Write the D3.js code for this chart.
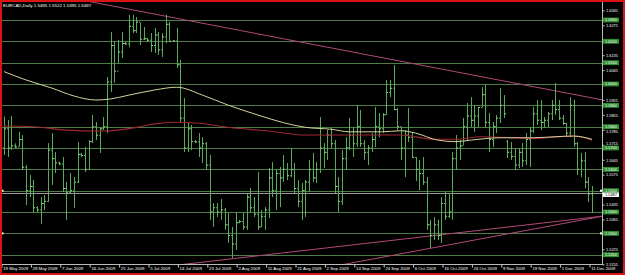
<!DOCTYPE html>
<html>
<head>
<meta charset="utf-8">
<script src="https://cdn.jsdelivr.net/npm/d3@7/dist/d3.min.js"></script>
<style>
html, body { margin: 0; padding: 0; background: #000; }
svg { display: block; }
text { font-family: "Liberation Sans", sans-serif; }
</style>
</head>
<body>
<script>
// EURCAD daily bars (bar index 0 = 19 May 2009)
var title = "EURCAD,Daily  1.5485 1.5522 1.5395 1.5487"

var highs = [
    1.5847,1.5831,1.5850,1.5722,1.5776,1.5761,1.5620,1.5573,1.5550,1.5428,
    1.5470,1.5480,1.5723,1.5770,1.5681,1.5636,1.5658,1.5541,1.5583,1.5564,
    1.5728,1.5677,1.5705,1.5737,1.5855,1.5822,1.5794,1.5845,1.6033,1.6244,
    1.6197,1.6206,1.6244,1.6197,1.6324,1.6324,1.6314,1.6286,1.6267,1.6216,
    1.6239,1.6263,1.6244,1.6239,1.6324,1.6291,1.6206,1.6263,1.6113,1.5934,
    1.5817,1.5808,1.5737,1.5770,1.5751,1.5728,1.5667,1.5442,1.5442,1.5461,
    1.5419,1.5395,1.5330,1.5400,1.5363,1.5400,1.5489,1.5513,1.5470,1.5587,
    1.5409,1.5423,1.5606,1.5634,1.5597,1.5611,1.5667,1.5630,1.5700,1.5630,
    1.5550,1.5536,1.5550,1.5644,1.5677,1.5634,1.5845,1.5723,1.5784,1.5794,
    1.5737,1.5564,1.5691,1.5751,1.5841,1.5798,1.5902,1.5878,1.5737,1.5714,
    1.5770,1.5892,1.5864,1.5864,1.6019,1.6019,1.6089,1.5887,1.5798,1.5784,
    1.5887,1.5775,1.5658,1.5644,1.5658,1.5564,1.5363,1.5377,1.5363,1.5470,
    1.5494,1.5489,1.5681,1.5761,1.5737,1.5841,1.5911,1.5939,1.5902,1.5892,
    1.5986,1.5995,1.5864,1.5822,1.5855,1.5981,1.5948,1.5737,1.5728,1.5700,
    1.5700,1.5723,1.5770,1.5798,1.5892,1.5925,1.5925,1.5845,1.5869,1.5925,
    1.6005,1.5925,1.5855,1.5817,1.5939,1.5925,1.5728,1.5677,1.5681,1.5564,
    1.5522]

var lows = [
    1.5667,1.5658,1.5691,1.5699,1.5706,1.5597,1.5433,1.5470,1.5395,1.5400,
    1.5344,1.5409,1.5447,1.5527,1.5583,1.5620,1.5494,1.5363,1.5489,1.5419,
    1.5536,1.5658,1.5587,1.5597,1.5723,1.5737,1.5677,1.5784,1.5770,1.5963,
    1.6005,1.6098,1.6122,1.6183,1.6173,1.6239,1.6239,1.6183,1.6206,1.6197,
    1.6150,1.6145,1.6136,1.6127,1.6192,1.6197,1.6197,1.6075,1.5817,1.5681,
    1.5681,1.5691,1.5723,1.5658,1.5630,1.5597,1.5363,1.5330,1.5377,1.5363,
    1.5316,1.5255,1.5184,1.5222,1.5348,1.5316,1.5316,1.5395,1.5377,1.5316,
    1.5330,1.5316,1.5372,1.5470,1.5409,1.5423,1.5541,1.5550,1.5564,1.5489,
    1.5423,1.5363,1.5377,1.5494,1.5541,1.5536,1.5583,1.5606,1.5644,1.5700,
    1.5489,1.5400,1.5433,1.5597,1.5691,1.5658,1.5705,1.5705,1.5644,1.5620,
    1.5681,1.5705,1.5751,1.5770,1.5855,1.5939,1.5878,1.5784,1.5644,1.5564,
    1.5728,1.5653,1.5545,1.5503,1.5527,1.5316,1.5231,1.5269,1.5269,1.5255,
    1.5363,1.5372,1.5363,1.5597,1.5644,1.5714,1.5737,1.5798,1.5775,1.5798,
    1.5892,1.5798,1.5681,1.5705,1.5770,1.5817,1.5841,1.5653,1.5644,1.5597,
    1.5606,1.5611,1.5620,1.5611,1.5770,1.5808,1.5784,1.5794,1.5798,1.5831,
    1.5855,1.5831,1.5808,1.5751,1.5751,1.5705,1.5573,1.5564,1.5511,1.5447,
    1.5395]

var opens = [
    1.5700,1.5790,1.5700,1.5710,1.5705,1.5740,1.5610,1.5500,1.5520,1.5420,
    1.5410,1.5440,1.5450,1.5690,1.5650,1.5630,1.5625,1.5510,1.5490,1.5500,
    1.5540,1.5670,1.5665,1.5600,1.5730,1.5800,1.5760,1.5790,1.5800,1.6010,
    1.6180,1.6060,1.6150,1.6190,1.6188,1.6270,1.6250,1.6290,1.6210,1.6212,
    1.6205,1.6180,1.6230,1.6160,1.6220,1.6280,1.6200,1.6202,1.6090,1.5840,
    1.5700,1.5790,1.5730,1.5728,1.5700,1.5720,1.5620,1.5400,1.5420,1.5400,
    1.5410,1.5340,1.5290,1.5250,1.5350,1.5355,1.5330,1.5470,1.5420,1.5390,
    1.5330,1.5380,1.5410,1.5560,1.5500,1.5580,1.5560,1.5600,1.5570,1.5600,
    1.5510,1.5450,1.5500,1.5540,1.5600,1.5560,1.5600,1.5700,1.5680,1.5760,
    1.5720,1.5520,1.5450,1.5650,1.5700,1.5760,1.5720,1.5800,1.5720,1.5680,
    1.5700,1.5740,1.5800,1.5790,1.5856,1.5960,1.5980,1.5880,1.5800,1.5700,
    1.5760,1.5750,1.5656,1.5600,1.5580,1.5540,1.5340,1.5290,1.5340,1.5290,
    1.5440,1.5380,1.5400,1.5650,1.5700,1.5710,1.5800,1.5850,1.5830,1.5850,
    1.5890,1.5950,1.5820,1.5740,1.5800,1.5840,1.5900,1.5730,1.5680,1.5660,
    1.5620,1.5680,1.5640,1.5740,1.5780,1.5860,1.5830,1.5820,1.5830,1.5860,
    1.5900,1.5880,1.5840,1.5815,1.5770,1.5900,1.5720,1.5600,1.5640,1.5540,
    1.5485]

var closes = [
    1.5790,1.5700,1.5710,1.5705,1.5740,1.5610,1.5500,1.5520,1.5420,1.5410,
    1.5440,1.5450,1.5690,1.5650,1.5630,1.5625,1.5510,1.5490,1.5500,1.5540,
    1.5670,1.5665,1.5600,1.5730,1.5800,1.5760,1.5790,1.5800,1.6010,1.6180,
    1.6060,1.6150,1.6190,1.6188,1.6270,1.6250,1.6290,1.6210,1.6212,1.6205,
    1.6180,1.6230,1.6160,1.6220,1.6280,1.6200,1.6202,1.6090,1.5840,1.5700,
    1.5790,1.5730,1.5728,1.5700,1.5720,1.5620,1.5400,1.5420,1.5400,1.5410,
    1.5340,1.5290,1.5250,1.5350,1.5355,1.5330,1.5470,1.5420,1.5390,1.5330,
    1.5380,1.5410,1.5560,1.5500,1.5580,1.5560,1.5600,1.5570,1.5600,1.5510,
    1.5450,1.5500,1.5540,1.5600,1.5560,1.5600,1.5700,1.5680,1.5760,1.5720,
    1.5520,1.5450,1.5650,1.5700,1.5760,1.5720,1.5800,1.5720,1.5680,1.5700,
    1.5740,1.5800,1.5790,1.5856,1.5960,1.5980,1.5880,1.5800,1.5700,1.5760,
    1.5750,1.5656,1.5600,1.5580,1.5540,1.5340,1.5290,1.5340,1.5290,1.5440,
    1.5380,1.5400,1.5650,1.5700,1.5710,1.5800,1.5850,1.5830,1.5850,1.5890,
    1.5950,1.5820,1.5740,1.5800,1.5840,1.5900,1.5860,1.5680,1.5660,1.5620,
    1.5680,1.5640,1.5740,1.5780,1.5860,1.5830,1.5820,1.5830,1.5860,1.5900,
    1.5880,1.5840,1.5815,1.5770,1.5900,1.5720,1.5600,1.5640,1.5540,1.5485,
    1.5487]

// moving averages, sampled along the curves
var maSlowIdx = [0, 6, 13, 19, 25, 29, 34, 41, 47, 54, 61, 69, 76, 82, 89, 94, 103, 108, 112, 118, 123, 127, 135, 144, 150, 155, 160]
var maSlow = [1.6058, 1.6019, 1.5981, 1.5944, 1.5925, 1.5930, 1.5948, 1.5972, 1.5985, 1.5948, 1.5901, 1.5855, 1.5819, 1.5797,
    1.5788, 1.5776, 1.5776, 1.5781, 1.5770, 1.5737, 1.5730, 1.5737, 1.5748, 1.5748, 1.5753, 1.5756, 1.5741]
var maLongIdx = [0, 8, 17, 26, 31, 37, 41, 47, 53, 62, 72, 82, 94, 108, 117, 123, 130, 144, 155, 160]
var maLong = [1.5803, 1.5800, 1.5784, 1.5780, 1.5784, 1.5800, 1.5813, 1.5821, 1.5816, 1.5795, 1.5780, 1.5761, 1.5761, 1.5761,
    1.5741, 1.5741, 1.5753, 1.5745, 1.5756, 1.5737]

// trendlines as [bar index, price] pairs
var trendDown = [[20, 1.6397], [163, 1.5925]]
var trendUpA = [[47, 1.5151], [163, 1.5381]]
var trendUpB = [[91.4, 1.5151], [163, 1.5381]]

var levels = [1.63, 1.62, 1.61, 1.60, 1.59, 1.58, 1.57, 1.56, 1.55, 1.54, 1.53, 1.52]
var markedLevels = [1.55, 1.53]
var lastPrice = 1.5487

// scale labels that are not hidden under the level boxes
var priceTicks = [1.6345, 1.6275, 1.6135, 1.6065, 1.5925, 1.5855, 1.5785,
    1.5715, 1.5645, 1.5575, 1.5435, 1.5365, 1.5225, 1.5155]

var dateIdx = [0, 8, 16, 24, 32, 40, 48, 56, 64, 72, 80, 88, 96, 104, 112, 120, 128, 136, 144, 152, 160]
var dateLabels = ["19 May 2009", "28 May 2009", "7 Jun 2009", "16 Jun 2009", "25 Jun 2009", "5 Jul 2009",
    "14 Jul 2009", "23 Jul 2009", "2 Aug 2009", "11 Aug 2009", "21 Aug 2009", "2 Sep 2009", "14 Sep 2009",
    "24 Sep 2009", "6 Oct 2009", "16 Oct 2009", "26 Oct 2009", "9 Nov 2009", "19 Nov 2009", "1 Dec 2009", "11 Dec 2009"]

var W = 625, H = 275
var plot = { left: 2, right: 602, top: 2, bottom: 264 }
var fs = "3.9px"

var svg = d3.select("body").append("svg")
    .attr("width", W)
    .attr("height", H)

svg.append("rect").attr("width", W).attr("height", H).attr("fill", "#000")

var x = d3.scaleLinear().domain([0, 160]).range([4, 592])
var y = d3.scaleLinear().domain([1.63, 1.52]).range([20, 254.7])

svg.append("clipPath").attr("id", "clip")
    .append("rect")
    .attr("x", plot.left).attr("y", plot.top)
    .attr("width", plot.right - plot.left).attr("height", plot.bottom - plot.top)

var g = svg.append("g").attr("clip-path", "url(#clip)")

// horizontal level lines
g.selectAll(".level")
    .data(levels)
    .enter().append("line")
    .attr("x1", plot.left).attr("x2", plot.right)
    .attr("y1", function (d) { return Math.round(y(d)) + 0.5 })
    .attr("y2", function (d) { return Math.round(y(d)) + 0.5 })
    .attr("stroke", "#4f7d47")
    .attr("stroke-width", 1)

// bid line
g.append("line")
    .attr("x1", plot.left).attr("x2", plot.right)
    .attr("y1", Math.round(y(lastPrice)) + 0.5)
    .attr("y2", Math.round(y(lastPrice)) + 0.5)
    .attr("stroke", "#9a9a9a")

// trendlines
var tline = d3.line()
    .x(function (d) { return x(d[0]) })
    .y(function (d) { return y(d[1]) })
;[trendDown, trendUpA, trendUpB].forEach(function (t) {
    g.append("path")
        .attr("d", tline(t))
        .attr("fill", "none")
        .attr("stroke", "#b2487a")
        .attr("stroke-width", 1)
})

// OHLC bars
var bars = g.selectAll(".bar")
    .data(highs.map(function (h, i) { return { i: i, o: opens[i], h: h, l: lows[i], c: closes[i] } }))
    .enter().append("g")

var barColor = "#58aa58"
bars.append("line")
    .attr("x1", function (d) { return Math.round(x(d.i)) + 0.5 })
    .attr("x2", function (d) { return Math.round(x(d.i)) + 0.5 })
    .attr("y1", function (d) { return y(d.h) })
    .attr("y2", function (d) { return y(d.l) })
    .attr("stroke", barColor)
bars.append("line")
    .attr("x1", function (d) { return Math.round(x(d.i)) - 1 })
    .attr("x2", function (d) { return Math.round(x(d.i)) + 0.5 })
    .attr("y1", function (d) { return y(d.o) })
    .attr("y2", function (d) { return y(d.o) })
    .attr("stroke", barColor)
bars.append("line")
    .attr("x1", function (d) { return Math.round(x(d.i)) + 0.5 })
    .attr("x2", function (d) { return Math.round(x(d.i)) + 2 })
    .attr("y1", function (d) { return y(d.c) })
    .attr("y2", function (d) { return y(d.c) })
    .attr("stroke", "#a8dca0")

// moving averages
var maLine = d3.line()
    .x(function (d) { return x(d[0]) })
    .y(function (d) { return y(d[1]) })
    .curve(d3.curveMonotoneX)

g.append("path")
    .attr("d", maLine(maLongIdx.map(function (v, i) { return [v, maLong[i]] })))
    .attr("fill", "none")
    .attr("stroke", "#9e2630")
    .attr("stroke-width", 1.1)
g.append("path")
    .attr("d", maLine(maSlowIdx.map(function (v, i) { return [v, maSlow[i]] })))
    .attr("fill", "none")
    .attr("stroke", "#d6d29c")
    .attr("stroke-width", 1)

// marks on selected lines
markedLevels.forEach(function (lv) {
    svg.append("rect").attr("x", 1.5).attr("y", y(lv) - 1).attr("width", 2).attr("height", 2).attr("fill", "#fff")
    svg.append("rect").attr("x", 600).attr("y", y(lv) - 1).attr("width", 2).attr("height", 2).attr("fill", "#fff")
})

// title
svg.append("text")
    .attr("x", 3).attr("y", 6.5)
    .attr("fill", "#fff")
    .style("font-size", "4.4px")
    .text(title)

// price scale on the right
var yAxis = d3.axisRight(y)
    .tickValues(priceTicks)
    .tickSize(2)
    .tickPadding(1.5)
    .tickFormat(d3.format(".4f"))
var ya = svg.append("g")
    .attr("transform", "translate(" + (plot.right + 0.5) + ",0)")
    .call(yAxis)
ya.select(".domain").remove()
ya.selectAll("line").attr("stroke", "#ccc")
// push a label off a level box when they sit too close
ya.selectAll("text")
    .attr("fill", "#fff")
    .attr("y", function (d) {
        var near = levels.reduce(function (a, b) { return Math.abs(y(b) - y(d)) < Math.abs(y(a) - y(d)) ? b : a })
        var diff = y(d) - y(near)
        return Math.abs(diff) < 4.5 ? Math.sign(diff) * (4.5 - Math.abs(diff)) : 0
    })
    .style("font-size", fs)
    .style("font-family", "Liberation Sans")

svg.append("line")
    .attr("x1", plot.right + 0.5).attr("x2", plot.right + 0.5)
    .attr("y1", plot.top).attr("y2", plot.bottom + 1)
    .attr("stroke", "#bbb")

// green level boxes
var boxes = svg.selectAll(".lvbox")
    .data(levels)
    .enter().append("g")
boxes.append("rect")
    .attr("x", plot.right + 1)
    .attr("y", function (d) { return y(d) - 2.4 })
    .attr("width", 16)
    .attr("height", 4.8)
    .attr("fill", "#2f8f2f")
boxes.append("text")
    .attr("x", plot.right + 9)
    .attr("y", function (d) { return y(d) + 1.3 })
    .attr("text-anchor", "middle")
    .attr("fill", "#fff")
    .style("font-size", fs)
    .text(function (d) { return d3.format(".4f")(d) })

// last price box, drawn just under the level box it touches
svg.append("rect")
    .attr("x", plot.right + 1).attr("y", y(lastPrice) - 0.9)
    .attr("width", 16).attr("height", 4.4)
    .attr("fill", "#fff")
svg.append("text")
    .attr("x", plot.right + 9).attr("y", y(lastPrice) + 2.9)
    .attr("text-anchor", "middle")
    .attr("fill", "#000")
    .style("font-size", fs)
    .text(d3.format(".4f")(lastPrice))

// date scale at the bottom
svg.append("line")
    .attr("x1", plot.left).attr("x2", plot.right + 0.5)
    .attr("y1", plot.bottom + 0.5).attr("y2", plot.bottom + 0.5)
    .attr("stroke", "#bbb")

var xd = d3.scaleLinear().domain([0, 160]).range([1.5, 589.5])
var xAxis = d3.axisBottom(xd)
    .tickValues(dateIdx)
    .tickSize(3)
    .tickPadding(-0.5)
    .tickFormat(function (d, i) { return dateLabels[i] })
var xa = svg.append("g")
    .attr("transform", "translate(0," + (plot.bottom + 0.5) + ")")
    .call(xAxis)
xa.select(".domain").remove()
xa.selectAll("line").attr("stroke", "#ccc")
xa.selectAll("text")
    .attr("fill", "#fff")
    .attr("text-anchor", "start")
    .attr("dx", "1.2")
    .style("font-size", "4.3px")
    .style("font-family", "Liberation Sans")

// window frame
svg.append("rect")
    .attr("x", 0).attr("y", 0).attr("width", W).attr("height", H)
    .attr("fill", "none")
    .attr("stroke", "#d81414")
    .attr("stroke-width", 4)
</script>
</body>
</html>
